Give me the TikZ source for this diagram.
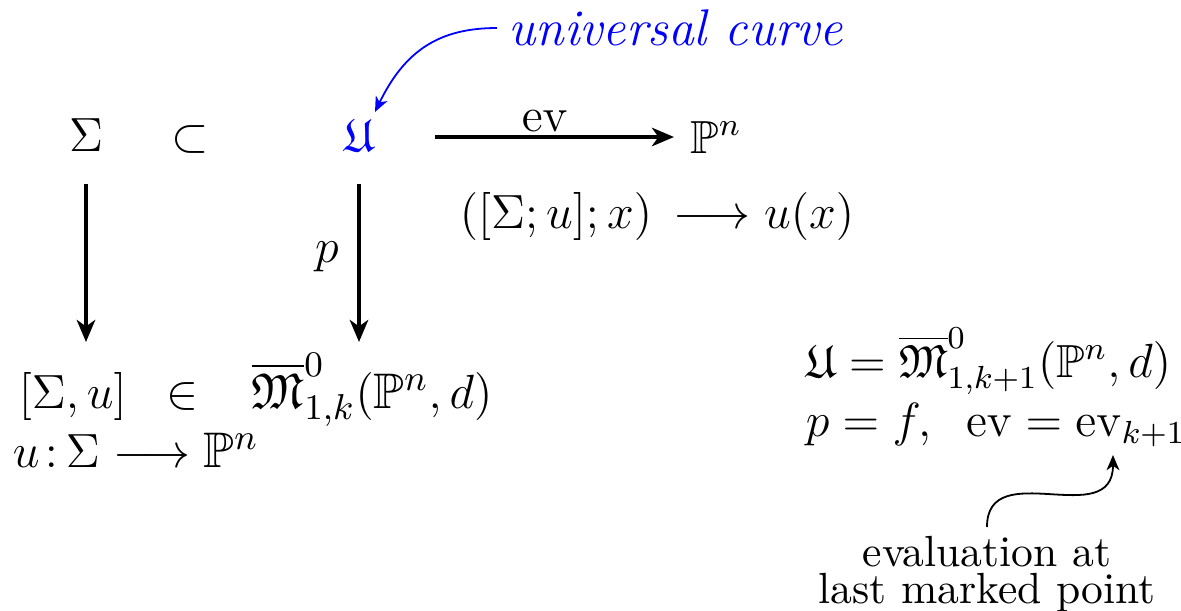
\documentclass[tikz,border=0pt]{standalone}
\usepackage{amsmath,amssymb}
\usetikzlibrary{arrows.meta}
\begin{document}
\begin{tikzpicture}[x=0.25pt,y=-0.25pt,
  every node/.style={inner sep=0pt, font=\fontsize{11.6}{14}\selectfont},
  bigarrow/.style={-{Stealth[length=5.5pt,width=4.6pt,inset=1.6pt]}, line width=1pt},
  thinarrow/.style={-{Stealth[length=3.8pt,width=3.2pt,inset=1.1pt]}, line width=0.45pt},
  bigmath/.style={font=\fontsize{12.5}{15}\selectfont},
  smalltext/.style={font=\fontsize{10.9}{9.4}\selectfont}]
\useasboundingbox (0,0) rectangle (1181,611);
% top row
\node[anchor=base] (S) at (86,151) {$\Sigma$};
\node[anchor=base] (sub) at (190,151) {$\subset$};
\node[anchor=base, text=blue] (U) at (359,151) {$\mathfrak{U}$};
\node[anchor=base west] (P) at (690,153) {$\mathbb{P}^n$};
\draw[bigarrow, shorten <=15pt, shorten >=4pt] (U.east |- 0,137) -- (P.west |- 0,137);
\node[anchor=base, font=\fontsize{12.6}{15}\selectfont] (evl) at (545,131) {$\mathrm{ev}$};
\node[anchor=base, font=\fontsize{11.5}{14}\selectfont] (map) at (657,228) {$([\Sigma;u];x)\,\longrightarrow u(x)$};
% universal curve
\node[anchor=base west, text=blue, font=\fontsize{12.9}{15}\selectfont] (uc) at (508,45) {\textit{universal curve}};
\coordinate (Utip) at (375,112);
\draw[thinarrow, blue, shorten <=2.75pt] (uc.west |- 0,28) .. controls (440,28) and (405,50) .. (Utip);
% bottom row
\node[anchor=base west, bigmath] (M) at (18,408) {$[\Sigma,u]\;\;\in\;\;\;\overline{\mathfrak{M}}^{0}_{1,k}(\mathbb{P}^n,d)$};
\node[anchor=base west, bigmath] (uS) at (12,467) {$u\mskip2mu{:}\mskip3mu\Sigma\longrightarrow\mathbb{P}^n$};
% vertical arrows
\draw[bigarrow, shorten <=8pt] (S.south) -- (S.south |- 0,342);
\draw[bigarrow, shorten <=8pt] (U.south) -- (U.south |- 0,342);
\node (plab) at (327,257) {$p$};
% right side
\node[anchor=base west] (R1) at (805,377) {$\mathfrak{U}=\overline{\mathfrak{M}}^{0}_{1,k+1}(\mathbb{P}^n,d)$};
\node[anchor=base west] (R2) at (805,436) {$p=f,\;\;\mathrm{ev}=\mathrm{ev}_{k+1}$};
\node[anchor=north, inner sep=2pt, align=center, smalltext] (E) at (987,527) {evaluation at\\last marked point};
\coordinate (evk) at (1113,455);
\draw[thinarrow] (E.north) .. controls (987,455) and (1113,532) .. (evk);
\end{tikzpicture}
\end{document}
